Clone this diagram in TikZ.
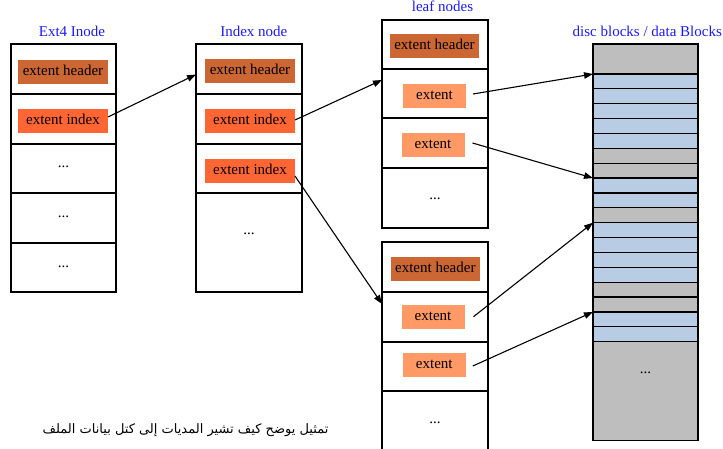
\documentclass[tikz,border=0pt]{standalone}
\usepackage{fontspec}
\setmainfont{Liberation Serif}
\newfontfamily\arabicfont[Script=Arabic]{DejaVu Sans}
\TeXXeTstate=1
\usetikzlibrary{arrows.meta}

\definecolor{hdrclr}{HTML}{CC6633}
\definecolor{idxclr}{HTML}{FF6633}
\definecolor{extclr}{HTML}{FF9966}
\definecolor{blkB}{HTML}{B8CDE4}
\definecolor{blkG}{HTML}{BEBEBE}
\definecolor{ttlblue}{HTML}{1A1AFF}

\tikzset{
  cell/.style={draw=black, line width=1.2pt, inner sep=0pt, outer sep=0pt,
    anchor=north west, minimum width=105pt},
  tag/.style={inner sep=0pt, outer sep=0pt, minimum height=24pt,
    text height=10pt, text depth=3pt, font=\fontsize{15}{18}\selectfont},
  hdr/.style={tag, fill=hdrclr, minimum width=90pt},
  idx/.style={tag, fill=idxclr, minimum width=90pt},
  ext/.style={tag, fill=extclr, minimum width=63pt},
  dots/.style={inner sep=0pt, font=\fontsize{15}{18}\selectfont},
  ttl/.style={inner sep=0pt, text=ttlblue, font=\fontsize{15}{18}\selectfont},
  conn/.style={-{Triangle[length=9pt,width=6.5pt]}, line width=1.1pt},
}

\begin{document}
\begin{tikzpicture}[x=1pt,y=-1pt]
\useasboundingbox (0,0) rectangle (723,449);
\clip (0,0) rectangle (723,449);

% titles
\node[ttl] (t1) at (72,31.5) {Ext4 Inode};
\node[ttl] (t2) at (253.8,31.5) {Index node};
\node[ttl] (t3) at (442.5,6.7) {leaf nodes};
\node[ttl] (t4) at (647.3,31) {disc blocks / data Blocks};

% Ext4 inode
\node[cell, minimum height=50pt] (c1r1) at (11,44) {};
\node[cell, minimum height=50pt] (c1r2) at (11,94) {};
\node[cell, minimum height=49pt] (c1r3) at (11,144) {};
\node[cell, minimum height=50pt] (c1r4) at (11,193) {};
\node[cell, minimum height=49pt] (c1r5) at (11,243) {};
\node[hdr] (c1hdr) at (63,72) {extent header};
\node[idx] (c1idx) at (63,121.5) {extent index};
\node[dots] (c1d1) at (63.5,167.3) {...};
\node[dots] (c1d2) at (63.5,217) {...};
\node[dots] (c1d3) at (63.5,266.7) {...};

% index node
\node[cell, minimum width=106pt, minimum height=50pt] (c2r1) at (196,44) {};
\node[cell, minimum width=106pt, minimum height=50pt] (c2r2) at (196,94) {};
\node[cell, minimum width=106pt, minimum height=49pt] (c2r3) at (196,144) {};
\node[cell, minimum width=106pt, minimum height=99pt] (c2r4) at (196,193) {};
\node[hdr] (c2hdr) at (250,71.5) {extent header};
\node[idx] (c2idxa) at (250,121) {extent index};
\node[idx] (c2idxb) at (250,171) {extent index};
\node[dots] (c2d1) at (249,234) {...};

% upper leaf node
\node[cell, minimum width=106pt, minimum height=49pt] (lt1) at (382,20) {};
\node[cell, minimum width=106pt, minimum height=49pt] (lt2) at (382,69) {};
\node[cell, minimum width=106pt, minimum height=50pt] (lt3) at (382,118) {};
\node[cell, minimum width=106pt, minimum height=60pt] (lt4) at (382,168) {};
\node[hdr, minimum width=89pt] (lthdr) at (434.5,46.5) {extent header};
\node[ext] (lte1) at (434.5,96.5) {extent};
\node[ext] (lte2) at (433,145) {extent};
\node[dots] (ltd) at (435,199) {...};

% lower leaf node
\node[cell, minimum width=106pt, minimum height=50pt] (lb1) at (382,242) {};
\node[cell, minimum width=106pt, minimum height=50pt] (lb2) at (382,292) {};
\node[cell, minimum width=106pt, minimum height=49pt] (lb3) at (382,342) {};
\node[cell, minimum width=106pt, minimum height=70pt] (lb4) at (382,391) {};
\node[hdr, minimum width=89pt] (lbhdr) at (435.3,268.7) {extent header};
\node[ext] (lbe1) at (433,316.7) {extent};
\node[ext] (lbe2) at (434.3,365) {extent};
\node[dots] (lbd) at (435,422.7) {...};

% disc blocks
\node[cell, fill=blkG, minimum height=30pt] (blk0) at (593,44) {};
\foreach \c [count=\k] in {B,B,B,B,B,G,G,B,B,G,B,B,B,B,G,G,B,B}
  \node[cell, fill=blk\c, minimum height=14.87pt] (blk\k) at (593,{74+(\k-1)*14.87}) {};
\node[cell, fill=blkG, minimum height=99pt] (blk19) at (593,341.7) {};
\node[dots] (bd) at (645.5,372.7) {...};

% pointers
\draw[conn] ([yshift=4.5pt]c1idx.east) -- ([yshift=-5.5pt]c2r1.west);
\draw[conn] ([yshift=1pt]c2idxa.east) -- ([yshift=-11pt]lt2.north west);
\draw[conn] ([yshift=-5pt]c2idxb.east) -- ([yshift=-12pt]lb2.north west);
\draw[conn] ([xshift=7pt,yshift=2.5pt]lte1.east) -- (blk1.north west);
\draw[conn] ([xshift=8pt,yshift=2pt]lte2.east) -- (blk8.north west);
\draw[conn] ([xshift=9pt]lbe1.east) -- (blk11.north west);
\draw[conn] ([xshift=7pt,yshift=-1pt]lbe2.east) -- (blk17.north west);

% caption
\node[inner sep=0pt, font=\arabicfont\fontsize{13}{15}\selectfont] (cap) at (185.5,430)
  {\beginR تمثيل يوضح كيف تشير المديات إلى كتل بيانات الملف\endR};
\end{tikzpicture}
\end{document}
